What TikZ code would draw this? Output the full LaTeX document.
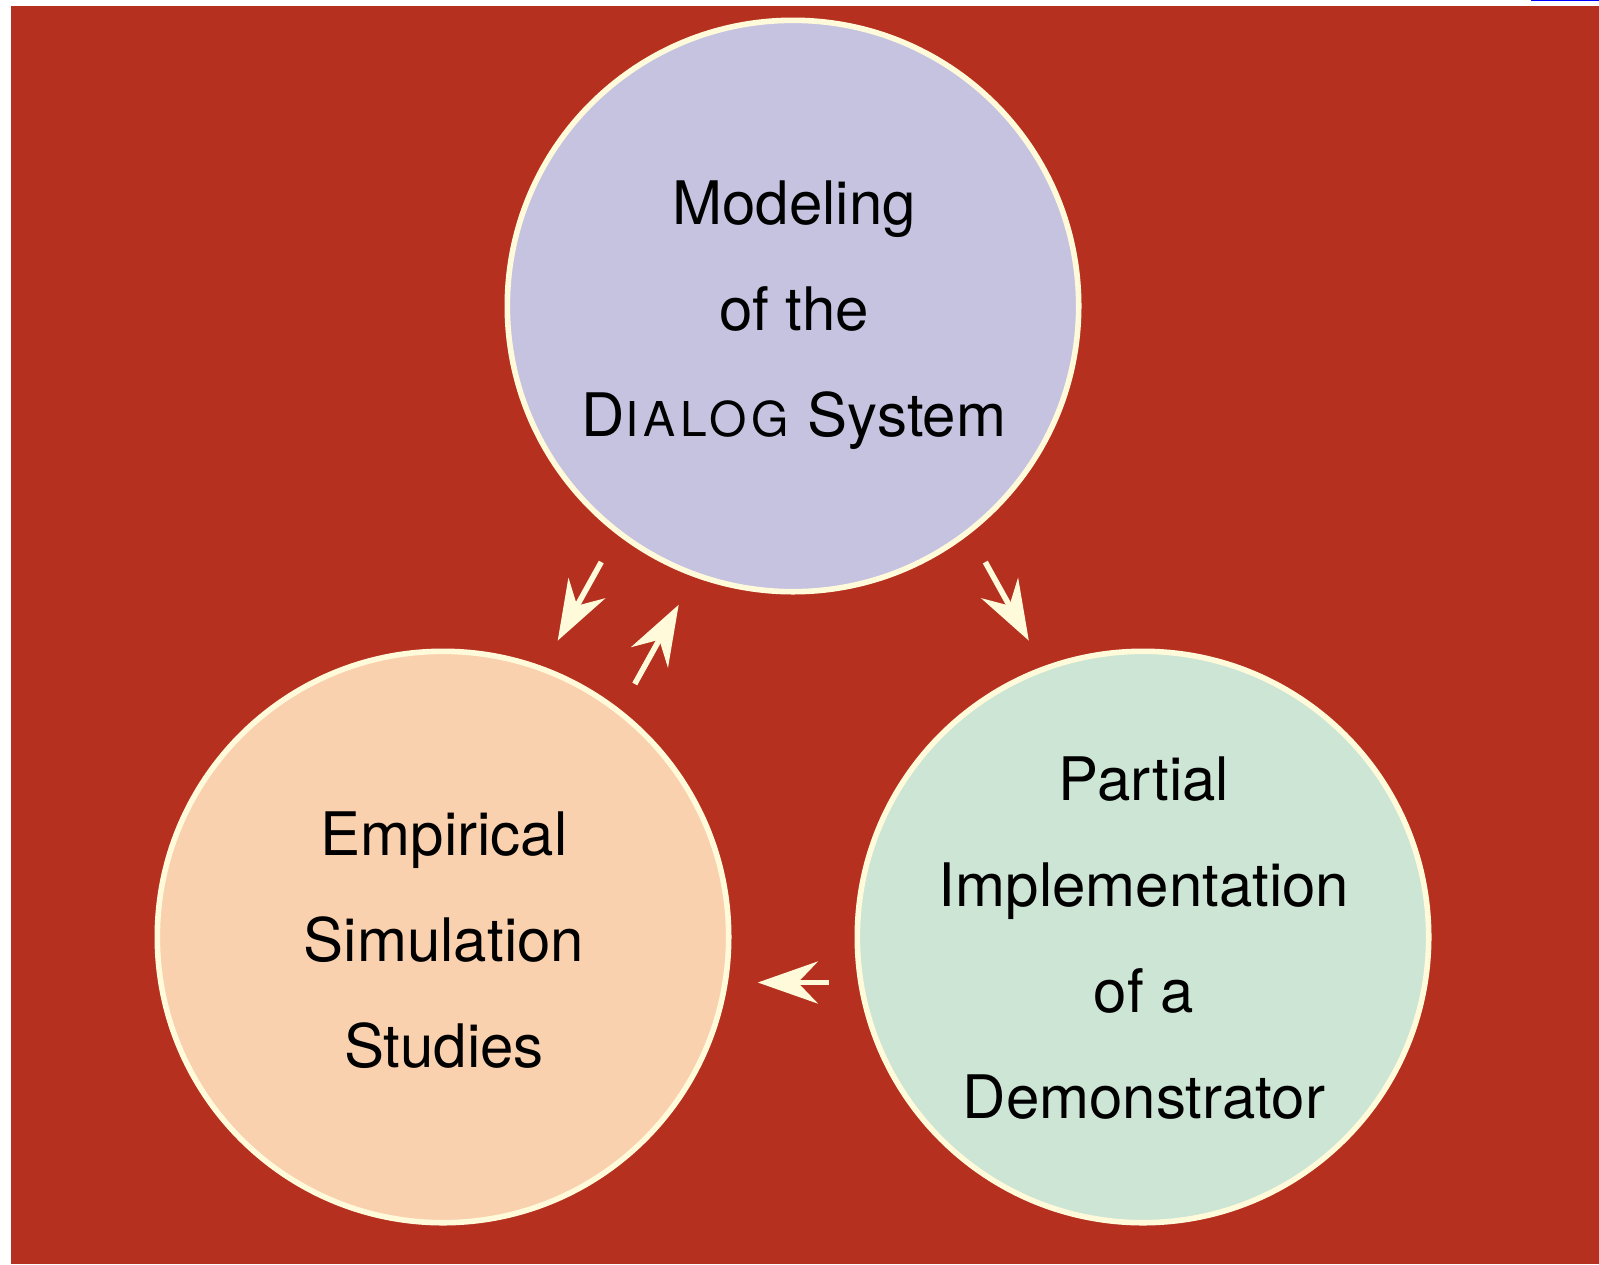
\documentclass[tikz,border=0pt]{standalone}
\usepackage{fontspec}
\setmainfont{TeX Gyre Heros}
\usetikzlibrary{arrows.meta}
\definecolor{bg}{HTML}{B5301E}
\definecolor{cream}{HTML}{FFFBDA}
\definecolor{topc}{HTML}{C6C3E1}
\definecolor{leftc}{HTML}{FAD1AF}
\definecolor{rightc}{HTML}{CDE5D4}
\definecolor{linkblue}{HTML}{0000FF}
\begin{document}
\begin{tikzpicture}[x=0.5pt,y=-0.5pt,
  bubble/.style={circle, draw=cream, line width=2.8pt, minimum size=285.7pt, inner sep=0pt},
  txt/.style={align=center, inner sep=0pt, font=\fontsize{30}{53}\selectfont},
  arr/.style={draw=cream, line width=2.8pt, -{Stealth[length=30pt,width=21pt,inset=10pt]}}]
\useasboundingbox (0,0) rectangle (1599,1264);
\fill[bg] (11,6) rectangle (1599,1264);
\fill[linkblue] (1531,0) rectangle (1599,1.4);

\node[bubble, fill=topc] (top) at (793,306) {};
\node[bubble, fill=leftc] (left) at (443,937) {};
\node[bubble, fill=rightc] (right) at (1143,937) {};

\node[txt] (toptext) at (794,315)
  {Modeling\\of the\\D{\fontsize{24}{53}\selectfont\addfontfeature{LetterSpace=10}IALOG}\hspace{1pt} System};
\node[txt] (lefttext) at (444,940)
  {Empirical\\Simulation\\Studies};
\node[txt] (righttext) at (1144,938)
  {Partial\\Implementation\\of a\\Demonstrator};

\draw[arr, shorten <=14.2pt, shorten >=13.15pt, transform canvas={shift={(-38,-21.1)}}] (top) -- (left);
\draw[arr, shorten <=12.9pt, shorten >=14.1pt, transform canvas={shift={(39.3,21.8)}}] (left) -- (top);
\draw[arr, shorten <=14.35pt, shorten >=13.05pt, transform canvas={shift={(38.4,-21.3)}}] (top) -- (right);
\draw[arr, shorten <=12.85pt, shorten >=13.15pt, transform canvas={shift={(0,45.5)}}] (right) -- (left);
\end{tikzpicture}
\end{document}
